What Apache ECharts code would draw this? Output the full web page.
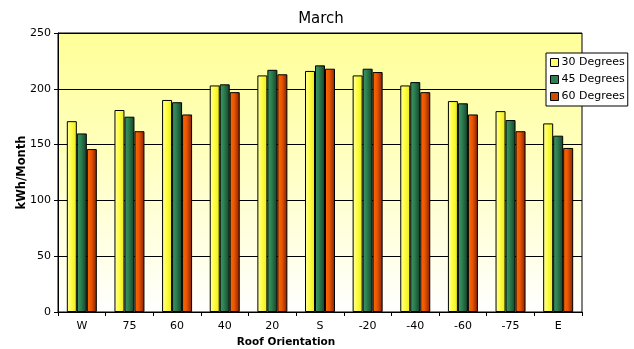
<!DOCTYPE html>
<html><head><meta charset="utf-8">
<script src="https://cdn.jsdelivr.net/npm/echarts@6/dist/echarts.min.js"></script>
<style>html,body{margin:0;padding:0;background:#fff}#c{width:634px;height:349px}</style>
</head><body><div id="c"></div>
<script>
var categories = ['W','75','60','40','20','S','-20','-40','-60','-75','E'];
var deg30 = [171,181,190,203,212,216,212,203,189,180,169];
var deg45 = [160,175,188,204,217,221,218,206,187,172,158];
var deg60 = [146,162,177,197,213,218,215,197,177,162,147];
var yTicks = [0,50,100,150,200,250];
var seriesNames = ['30 Degrees','45 Degrees','60 Degrees'];

var FONT = 'DejaVu Sans';
function hgrad(stops){
  return new echarts.graphic.LinearGradient(0,0,1,0, stops.map(function(s){return {offset:s[0],color:s[1]};}));
}
var fills = [
  hgrad([[0,'#FFFFB0'],[0.45,'#FFFF40'],[1,'#E8E820']]),
  hgrad([[0,'#3A9A6A'],[0.4,'#2E8050'],[1,'#14402A']]),
  hgrad([[0,'#FF6A00'],[0.45,'#E85500'],[1,'#802000']])
];
var legendColors = ['#FFFF66','#2E7D55','#D04A00'];

var chart = echarts.init(document.getElementById('c'), null, {renderer:'canvas'});
function mk(i, data){
  return {
    name: seriesNames[i], type:'bar', data:data, barWidth:10, barGap:'0%',
    itemStyle:{color:fills[i], borderColor:'#000', borderWidth:1},
    emphasis:{disabled:true}, animation:false
  };
}
chart.setOption({
  animation:false,
  backgroundColor:'#fff',
  textStyle:{fontFamily:FONT},
  title:{text:'March', left:316, textAlign:'center', top:7, textStyle:{fontFamily:FONT, fontSize:15, fontWeight:'normal', color:'#000'}},
  grid:{left:58, right:52, top:33, bottom:37, outerBoundsMode:'none', containLabel:false, show:true, borderColor:'#000', borderWidth:1,
    backgroundColor:new echarts.graphic.LinearGradient(0,0,0,1,[{offset:0,color:'#FFFF99'},{offset:0.4,color:'#FFFFBB'},{offset:1,color:'#FFFFFF'}])},
  legend:{
    orient:'vertical', left:546, top:53, itemWidth:8, itemHeight:8, itemGap:6,
    backgroundColor:'#fff', borderColor:'#000', borderWidth:1, padding:[4,3,4,4],
    textStyle:{fontFamily:FONT, fontSize:11, color:'#000', padding:[0,0,0,-2]},
    data: seriesNames.map(function(n,i){return {name:n, icon:'rect', itemStyle:{color:legendColors[i], borderColor:'#000', borderWidth:1}};}),
    selectedMode:false
  },
  xAxis:{
    type:'category', data:categories,
    name:'Roof Orientation', nameLocation:'middle', nameGap:24,
    nameTextStyle:{fontFamily:FONT, fontSize:10.5, fontWeight:'bold', color:'#000', padding:[0,68,0,0]},
    axisLine:{lineStyle:{color:'#000'}},
    axisTick:{show:true, length:4, lineStyle:{color:'#000'}},
    axisLabel:{color:'#000', fontSize:11, fontFamily:FONT, margin:9},
    boundaryGap:true
  },
  yAxis:{
    type:'value', min:0, max:250, interval:50,
    name:'kWh/Month', nameLocation:'middle', nameGap:30, nameRotate:90, nameMoveOverlap:false,
    nameTextStyle:{fontFamily:FONT, fontSize:11.5, fontWeight:'bold', color:'#000'},
    axisLine:{show:true, lineStyle:{color:'#000'}},
    axisTick:{show:true, length:4, lineStyle:{color:'#000'}},
    axisLabel:{color:'#000', fontSize:11, fontFamily:FONT, margin:7,
      formatter:function(v){return yTicks.indexOf(v)>=0? String(v):'';}},
    splitLine:{show:true, lineStyle:{color:'#000', width:1}}
  },
  series:[mk(0,deg30), mk(1,deg45), mk(2,deg60)]
});
</script></body></html>
